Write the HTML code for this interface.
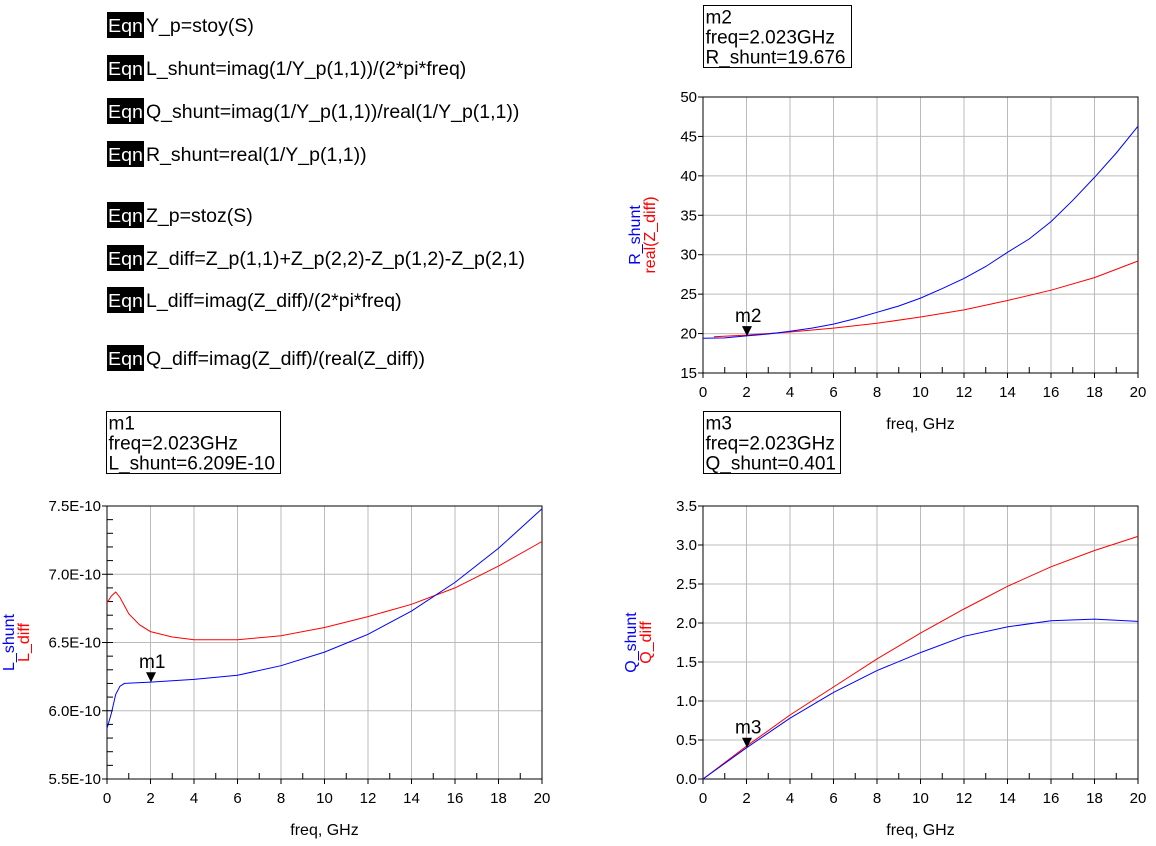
<!DOCTYPE html>
<html><head><meta charset="utf-8"><style>
body{margin:0;background:#fff;width:1156px;height:846px;overflow:hidden;font-family:"Liberation Sans",Arial,sans-serif}
svg{position:absolute;left:0;top:0}
</style></head><body>
<svg id="s" width="1156" height="846" xmlns="http://www.w3.org/2000/svg" font-family="Liberation Sans, Arial, sans-serif"></svg>
<script>
const S=document.getElementById('s');let h='';
const eq=[[25,'Y_p=stoy(S)'],[68,'L_shunt=imag(1/Y_p(1,1))/(2*pi*freq)'],[111,'Q_shunt=imag(1/Y_p(1,1))/real(1/Y_p(1,1))'],[154,'R_shunt=real(1/Y_p(1,1))'],[215,'Z_p=stoz(S)'],[258,'Z_diff=Z_p(1,1)+Z_p(2,2)-Z_p(1,2)-Z_p(2,1)'],[300,'L_diff=imag(Z_diff)/(2*pi*freq)'],[358,'Q_diff=imag(Z_diff)/(real(Z_diff))']];
for(const[y,t]of eq){h+=`<rect x="107" y="${y-13}" width="37" height="26" fill="#000"/><text x="108" y="${y+7}" font-size="18.5" fill="#fff" textLength="35" lengthAdjust="spacingAndGlyphs">Eqn</text><text x="146" y="${y+7}" font-size="19.5">${t}</text>`;}
function mbox(x,y,w,lines){h+=`<rect x="${x}" y="${y}" width="${w}" height="62" fill="#fff" stroke="#000" stroke-width="1"/>`;lines.forEach((l,i)=>h+=`<text x="${x+2}" y="${y+18+i*20}" font-size="19">${l}</text>`);}
mbox(703.5,5.5,148,['m2','freq=2.023GHz','R_shunt=19.676']);
mbox(106.5,411.5,174,['m1','freq=2.023GHz','L_shunt=6.209E-10']);
mbox(703.5,411.5,137,['m3','freq=2.023GHz','Q_shunt=0.401']);
function chart(o){
 const{L,R,T,B,ymin,ymax,ystep,fmt,minor,blue,red,mk,lab,lx}=o;
 const X=f=>L+f*(R-L)/20,Y=v=>B-(v-ymin)*(B-T)/(ymax-ymin);
 for(let f=2;f<20;f+=2)h+=`<line x1="${X(f)}" y1="${T}" x2="${X(f)}" y2="${B}" stroke="#bbb"/>`;
 const n=Math.round((ymax-ymin)/ystep);
 for(let i=1;i<n;i++)h+=`<line x1="${L}" y1="${Y(ymin+i*ystep)}" x2="${R}" y2="${Y(ymin+i*ystep)}" stroke="#bbb"/>`;
 h+=`<rect x="${L}" y="${T}" width="${R-L}" height="${B-T}" fill="none" stroke="#000"/>`;
 for(let f=0;f<=20;f++)h+=`<line x1="${X(f)}" y1="${B}" x2="${X(f)}" y2="${B-(f%2?6:0)}" stroke="#000"/>`;
 for(let f=0;f<=20;f+=2)h+=`<line x1="${X(f)}" y1="${B}" x2="${X(f)}" y2="${B+5}" stroke="#000"/><text x="${X(f)}" y="${B+24}" font-size="15" text-anchor="middle">${f}</text>`;
 for(let i=0;i<=n;i++){const v=ymin+i*ystep;h+=`<line x1="${L-5}" y1="${Y(v)}" x2="${L}" y2="${Y(v)}" stroke="#000"/><text x="${L-6}" y="${Y(v)+5}" font-size="15" text-anchor="end">${fmt(v)}</text>`;}
 if(minor){for(let v=ymin;v<=ymax+1e-9;v+=minor)h+=`<line x1="${L}" y1="${Y(v)}" x2="${L+6}" y2="${Y(v)}" stroke="#000"/>`;}
 const pl=(d,c)=>h+=`<polyline fill="none" stroke="${c}" stroke-width="1" points="${d.map(p=>X(p[0]).toFixed(1)+','+Y(p[1]).toFixed(1)).join(' ')}"/>`;
 pl(red,'#f00');pl(blue,'#00f');
 const mx=X(2.023),my=Y(mk);
 h+=`<polygon points="${mx-5},${my-10} ${mx+5},${my-10} ${mx},${my}" fill="#000"/><text x="${mx-12}" y="${my-14}" font-size="19">${o.mn}</text>`;
 h+=`<text x="${(L+R)/2}" y="${B+56}" font-size="16" text-anchor="middle">freq, GHz</text>`;
 const cy=(T+B)/2;
 h+=`<text transform="translate(${lx},${cy}) rotate(-90)" font-size="16" text-anchor="middle" fill="#00f">${lab[0]}</text>`;
 h+=`<text transform="translate(${lx+15},${cy}) rotate(-90)" font-size="16" text-anchor="middle" fill="#f00">${lab[1]}</text>`;
}
chart({L:703,R:1138,T:97,B:373,ymin:15,ymax:50,ystep:5,fmt:v=>v,mn:'m2',mk:19.676,lx:640,lab:['R_shunt','real(Z_diff)'],
 blue:[[0,19.4],[1,19.45],[2,19.7],[3,19.95],[4,20.3],[5,20.7],[6,21.2],[7,21.9],[8,22.7],[9,23.5],[10,24.5],[11,25.7],[12,27],[13,28.5],[14,30.3],[15,32],[16,34.2],[17,36.9],[18,39.8],[19,42.9],[20,46.3]],
 red:[[0.5,19.6],[2,19.8],[4,20.2],[6,20.7],[8,21.3],[10,22.1],[12,23],[14,24.2],[16,25.5],[18,27.1],[20,29.2]]});
chart({L:107,R:542,T:506,B:779,ymin:5.5,ymax:7.5,ystep:0.5,minor:0.1,fmt:v=>v.toFixed(1)+'E-10',mn:'m1',mk:6.209,lx:14,lab:['L_shunt','L_diff'],
 blue:[[0,5.87],[0.2,5.98],[0.4,6.12],[0.6,6.18],[0.8,6.2],[2,6.21],[4,6.23],[6,6.26],[8,6.33],[10,6.43],[12,6.56],[14,6.73],[16,6.94],[18,7.19],[20,7.48]],
 red:[[0,6.79],[0.2,6.84],[0.4,6.87],[0.6,6.83],[0.8,6.77],[1,6.71],[1.5,6.63],[2,6.58],[3,6.54],[4,6.52],[6,6.52],[8,6.55],[10,6.61],[12,6.69],[14,6.78],[16,6.9],[18,7.06],[20,7.24]]});
chart({L:703,R:1138,T:506,B:779,ymin:0,ymax:3.5,ystep:0.5,fmt:v=>v.toFixed(1),mn:'m3',mk:0.401,lx:636,lab:['Q_shunt','Q_diff'],
 blue:[[0,0],[2,0.4],[4,0.78],[6,1.11],[8,1.39],[10,1.62],[12,1.83],[14,1.95],[16,2.03],[18,2.05],[20,2.02]],
 red:[[0,0],[2,0.42],[4,0.82],[6,1.18],[8,1.54],[10,1.87],[12,2.18],[14,2.47],[16,2.72],[18,2.93],[20,3.11]]});
S.innerHTML=h;
</script>
</body></html>
